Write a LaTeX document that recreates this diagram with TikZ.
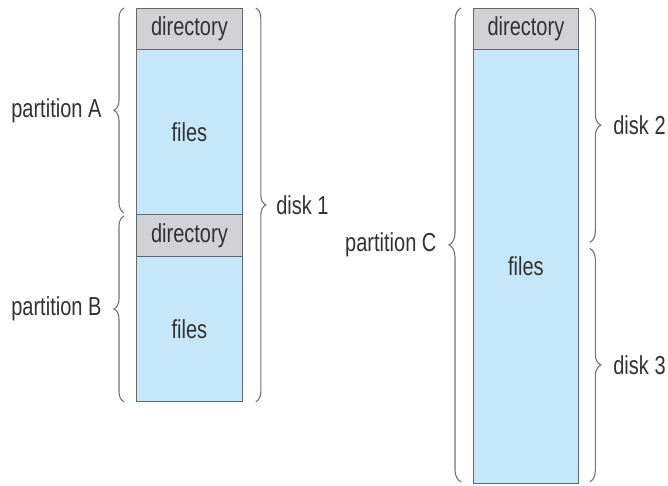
\documentclass[tikz,border=0pt]{standalone}
\usepackage{fontspec}
\setmainfont{Liberation Sans}[FakeStretch=0.77]
\usetikzlibrary{decorations.pathreplacing,positioning}
\definecolor{dirgray}{RGB}{210,210,213}
\definecolor{fileblue}{RGB}{198,231,249}
\definecolor{edgegray}{RGB}{95,105,115}
\definecolor{bracegray}{RGB}{115,115,115}
\definecolor{txtgray}{RGB}{50,50,50}
\begin{document}
\begin{tikzpicture}[x=1pt, y=-1pt, font=\fontsize{26}{30}\selectfont, text=txtgray,
  block/.style={draw=edgegray, line width=0.8pt, fill=#1, anchor=north west,
                minimum width=106pt, inner sep=0pt},
  curly/.style={draw=bracegray, line width=1.1pt, decorate,
                decoration={brace, amplitude=#1}},
  curly/.default=10pt,
  lbl/.style={inner sep=1pt}
]
  \useasboundingbox (0,0) rectangle (668,485);
  % left column: two partitions on disk 1
  \node[block=dirgray,   minimum height=41pt]  (dirA)   at (136,8)   {directory};
  \node[block=fileblue,  minimum height=165pt] (filesA) at (136,49)  {files};
  \node[block=dirgray,   minimum height=42pt]  (dirB)   at (136,214) {directory};
  \node[block=fileblue,  minimum height=145pt] (filesB) at (136,256) {files};
  % right column: one partition over disk 2 and disk 3
  \node[block=dirgray,  minimum width=105pt, minimum height=41pt]  (dirC)   at (473,8)  {directory};
  \node[block=fileblue, minimum width=105pt, minimum height=434pt] (filesC) at (473,49) {files};
  % braces
  \draw[curly] ([xshift=-12pt,yshift=2pt]filesA.south west) -- ([xshift=-12pt]dirA.north west)
        node[lbl, midway, left=21pt] (partA) {partition A};
  \draw[curly] ([xshift=-12pt]filesB.south west) -- ([xshift=-12pt,yshift=-2pt]dirB.north west)
        node[lbl, midway, left=21pt] (partB) {partition B};
  \draw[curly] ([xshift=13pt]dirA.north east) -- ([xshift=13pt]filesB.south east)
        node[lbl, midway, right=19pt] (disk1) {disk 1};
  \draw[curly=12pt] ([xshift=-12pt,yshift=2pt]filesC.south west) -- ([xshift=-12pt]dirC.north west)
        node[lbl, midway, left=23pt] (partC) {partition C};
  \draw[curly=11pt] ([xshift=11pt]dirC.north east) -- ([xshift=11pt,yshift=24pt]filesC.east)
        node[lbl, midway, right=22pt] (disk2) {disk 2};
  \draw[curly=11pt] ([xshift=11pt,yshift=18pt]filesC.east) -- ([xshift=11pt,yshift=2pt]filesC.south east)
        node[lbl, midway, right=22pt] (disk3) {disk 3};
\end{tikzpicture}
\end{document}
